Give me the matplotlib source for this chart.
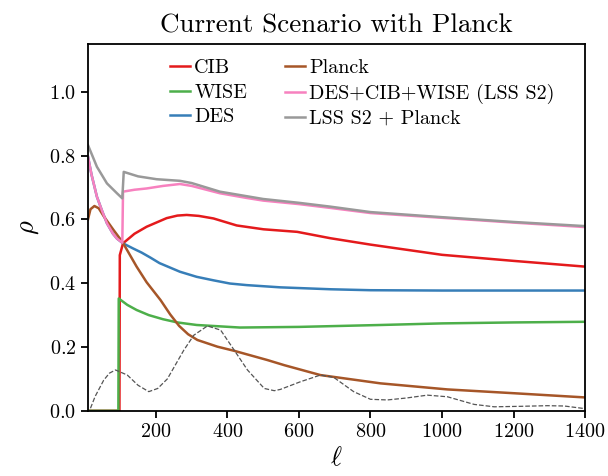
import numpy as np
import matplotlib
matplotlib.use("Agg")
import matplotlib.pyplot as plt

plt.rcParams['font.family'] = 'cmr10'
plt.rcParams['mathtext.fontset'] = 'cm'
plt.rcParams['axes.unicode_minus'] = False
plt.rcParams['axes.formatter.use_mathtext'] = True

# Datos
ell_cib = [10, 98, 99, 108, 140, 174, 230, 260, 286, 320, 361, 426, 501, 595, 688, 800, 1000, 1200, 1400]
rho_cib = [0, 0, 0.488, 0.525, 0.555, 0.577, 0.604, 0.612, 0.614, 0.611, 0.603, 0.581, 0.569, 0.561, 0.541, 0.521, 0.489, 0.470, 0.452]

ell_wise = [10, 95, 96, 120, 146, 180, 220, 260, 314, 435, 600, 828, 1000, 1200, 1400]
rho_wise = [0, 0, 0.352, 0.332, 0.316, 0.300, 0.287, 0.277, 0.269, 0.261, 0.263, 0.269, 0.274, 0.277, 0.279]

ell_des = [10, 20, 35, 50, 63, 80, 91, 108, 136, 160, 185, 210, 267, 314, 361, 407, 454, 548, 688, 800, 1000, 1200, 1400]
rho_des = [0.797, 0.740, 0.671, 0.625, 0.588, 0.555, 0.540, 0.525, 0.509, 0.496, 0.480, 0.463, 0.436, 0.420, 0.409, 0.399, 0.394, 0.387, 0.381, 0.378, 0.377, 0.377, 0.377]

ell_planck = [10, 17, 28, 40, 54, 82, 106, 146, 174, 213, 240, 265, 290, 316, 372, 419, 512, 559, 660, 828, 1015, 1202, 1398]
rho_planck = [0.600, 0.632, 0.642, 0.635, 0.610, 0.566, 0.530, 0.452, 0.403, 0.347, 0.302, 0.266, 0.240, 0.222, 0.201, 0.188, 0.159, 0.143, 0.112, 0.086, 0.067, 0.055, 0.042]

ell_lss = [10, 20, 35, 50, 63, 80, 91, 106, 108, 140, 174, 220, 267, 300, 379, 450, 500, 600, 688, 800, 1000, 1200, 1400]
rho_lss = [0.797, 0.740, 0.671, 0.625, 0.588, 0.555, 0.540, 0.527, 0.687, 0.693, 0.697, 0.705, 0.711, 0.705, 0.682, 0.668, 0.659, 0.648, 0.636, 0.620, 0.605, 0.590, 0.576]

ell_tot = [10, 35, 63, 91, 106, 110, 150, 202, 267, 300, 379, 500, 600, 688, 800, 1000, 1200, 1400]
rho_tot = [0.833, 0.765, 0.713, 0.682, 0.666, 0.749, 0.735, 0.726, 0.721, 0.714, 0.687, 0.664, 0.652, 0.640, 0.623, 0.607, 0.592, 0.579]

ell_cmb = [17, 30, 54, 70, 87, 120, 150, 180, 205, 232, 278, 306, 344, 381, 419, 456, 503, 531, 548, 604, 660, 697, 753, 800, 847, 900, 959, 1015, 1090, 1146, 1220, 1295, 1342, 1398]
rho_cmb = [0.008, 0.045, 0.096, 0.118, 0.128, 0.112, 0.080, 0.060, 0.070, 0.100, 0.190, 0.237, 0.266, 0.253, 0.190, 0.128, 0.070, 0.063, 0.067, 0.091, 0.112, 0.105, 0.060, 0.036, 0.034, 0.040, 0.049, 0.044, 0.020, 0.0125, 0.014, 0.016, 0.015, 0.007]

fig = plt.figure(figsize=(6.08, 4.76), dpi=100)
ax = fig.add_axes([0.1447, 0.137, 0.8175, 0.7706])

lw = 1.8
ax.plot(ell_cib, rho_cib, color='#e41a1c', lw=lw, label='CIB')
ax.plot(ell_wise, rho_wise, color='#4daf4a', lw=lw, label='WISE')
ax.plot(ell_des, rho_des, color='#377eb8', lw=lw, label='DES')
ax.plot(ell_planck, rho_planck, color='#a65628', lw=lw, label='Planck')
ax.plot(ell_lss, rho_lss, color='#f781bf', lw=lw, label='DES+CIB+WISE (LSS S2)')
ax.plot(ell_tot, rho_tot, color='#999999', lw=lw, label='LSS S2 + Planck')
ax.plot(ell_cmb, rho_cmb, color='#555555', lw=0.9, ls='--')

ax.set_xlim(10, 1400)
ax.set_ylim(0, 1.15)
ax.set_xticks([200, 400, 600, 800, 1000, 1200, 1400])
ax.set_yticks([0.0, 0.2, 0.4, 0.6, 0.8, 1.0])
ax.tick_params(labelsize=14.5, length=5, width=1.3)
for s in ax.spines.values():
    s.set_linewidth(1.3)

ax.set_xlabel(r'$\ell$', fontsize=19)
ax.set_ylabel(r'$\rho$', fontsize=19, labelpad=6)
ax.set_title('Current Scenario with Planck', fontsize=19.5, pad=8)

ax.legend(ncol=2, loc='upper left', frameon=False, fontsize=14.5,
          handlelength=1.0, handletextpad=0.2, columnspacing=1.9,
          labelspacing=0.3, borderpad=0, borderaxespad=0,
          bbox_to_anchor=(0.165, 0.958))

fig.savefig('out.png', dpi=100)
